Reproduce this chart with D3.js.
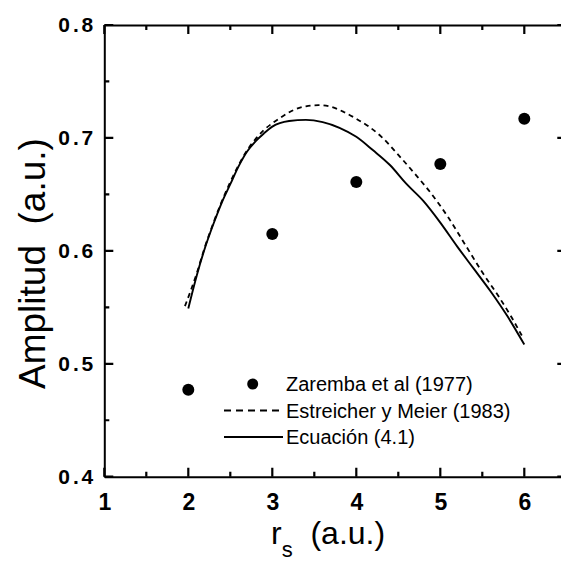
<!DOCTYPE html>
<html>
<head>
<meta charset="utf-8">
<script src="https://cdn.jsdelivr.net/npm/d3@7"></script>
<style>
  html, body { margin: 0; padding: 0; background: #fff; }
  svg { display: block; }
  text { font-family: "Liberation Sans", Arial, Helvetica, sans-serif; fill: #000; }
</style>
</head>
<body>
<svg id="chart" width="561" height="563"></svg>
<script>
// ---- data ----
const zarembaX = [2, 3, 4, 5, 6];
const zarembaY = [0.477, 0.615, 0.661, 0.677, 0.717];

const estreicherX = [1.96, 2.1, 2.2, 2.3, 2.4, 2.5, 2.6, 2.7, 2.8, 2.9, 3.0, 3.1, 3.25, 3.4, 3.55, 3.7, 3.85, 4.0, 4.15, 4.3, 4.5, 4.7, 4.9, 5.1, 5.3, 5.5, 5.7, 5.85, 5.97];
const estreicherY = [0.551, 0.580, 0.604, 0.625, 0.644, 0.661, 0.676, 0.689, 0.699, 0.707, 0.713, 0.718, 0.7246, 0.728, 0.729, 0.7275, 0.723, 0.717, 0.710, 0.701, 0.685, 0.668, 0.650, 0.629, 0.605, 0.581, 0.559, 0.541, 0.525];

const ecuacionX = [2.0, 2.1, 2.2, 2.3, 2.4, 2.5, 2.6, 2.7, 2.8, 2.9, 3.0, 3.2, 3.4, 3.6, 3.8, 4.0, 4.2, 4.4, 4.6, 4.8, 5.0, 5.2, 5.4, 5.6, 5.8, 6.0];
const ecuacionY = [0.549, 0.578, 0.603, 0.624, 0.643, 0.659, 0.675, 0.688, 0.697, 0.704, 0.710, 0.715, 0.716, 0.714, 0.709, 0.701, 0.689, 0.676, 0.659, 0.644, 0.625, 0.604, 0.584, 0.564, 0.542, 0.517];

const xMajorTicks = [1, 2, 3, 4, 5, 6];
const xMinorTicks = [1.5, 2.5, 3.5, 4.5, 5.5, 6.5];
const yMajorTicks = [0.4, 0.5, 0.6, 0.7, 0.8];
const yMinorTicks = [0.45, 0.55, 0.65, 0.75];
const xDomain = [1, 6.5];
const yDomain = [0.4, 0.8];

const legendLabels = ["Zaremba et al (1977)", "Estreicher y Meier (1983)", "Ecuación (4.1)"];

// ---- layout ----
const svg = d3.select("#chart");
const pLeft = 104.3, pRight = 566.3, pTop = 25, pBottom = 476.7;

const x = d3.scaleLinear().domain(xDomain).range([pLeft, pRight]);
const y = d3.scaleLinear().domain(yDomain).range([pBottom, pTop]);

// frame + labels via d3 axes
const gB = svg.append("g").attr("transform", `translate(0,${pBottom})`)
  .call(d3.axisBottom(x).tickValues(xMajorTicks).tickSize(0)
    .tickPadding(17).tickFormat(d3.format("d")));
gB.selectAll(".tick text").attr("font-size", 23).attr("font-weight", "bold")
  .attr("font-family", "Liberation Sans, Arial, sans-serif");

const gT = svg.append("g").attr("transform", `translate(0,${pTop})`)
  .call(d3.axisTop(x).tickValues([]).tickSize(0));

const gL = svg.append("g").attr("transform", `translate(${pLeft},0)`)
  .call(d3.axisLeft(y).tickValues(yMajorTicks).tickSize(0)
    .tickPadding(11).tickFormat(d3.format(".1f")));
gL.selectAll(".tick text").attr("font-size", 21).attr("font-weight", "bold")
  .attr("font-family", "Liberation Sans, Arial, sans-serif")
  .attr("textLength", 35).attr("lengthAdjust", "spacing");

const gR = svg.append("g").attr("transform", `translate(${pRight},0)`)
  .call(d3.axisRight(y).tickValues([]).tickSize(0));

[gB, gT, gL, gR].forEach(g => g.select(".domain").attr("stroke", "#000").attr("stroke-width", 2));

// curves
const line = d3.line().x(d => x(d[0])).y(d => y(d[1])).curve(d3.curveMonotoneX);
const estData = estreicherX.map((v, i) => [v, estreicherY[i]]);
const ecuData = ecuacionX.map((v, i) => [v, ecuacionY[i]]);

svg.append("path").datum(estData).attr("d", line)
  .attr("fill", "none").attr("stroke", "#000").attr("stroke-width", 1.8)
  .attr("stroke-dasharray", "5,4");
svg.append("path").datum(ecuData).attr("d", line)
  .attr("fill", "none").attr("stroke", "#000").attr("stroke-width", 1.9);

// points
svg.append("g").selectAll("circle")
  .data(zarembaX.map((v, i) => [v, zarembaY[i]]))
  .join("circle")
  .attr("cx", d => x(d[0])).attr("cy", d => y(d[1])).attr("r", 6).attr("fill", "#000");

// inward tick marks, drawn as one path on top
const tp = d3.path();
xMajorTicks.forEach(v => {
  const px = x(v);
  tp.moveTo(px, pBottom); tp.lineTo(px, pBottom - 9);
  tp.moveTo(px, pTop); tp.lineTo(px, pTop + 9);
});
xMinorTicks.forEach(v => {
  const px = x(v);
  tp.moveTo(px, pBottom); tp.lineTo(px, pBottom - 5);
  tp.moveTo(px, pTop); tp.lineTo(px, pTop + 5);
});
yMajorTicks.forEach(v => {
  const py = y(v);
  tp.moveTo(pLeft, py); tp.lineTo(pLeft + 9, py);
  tp.moveTo(pRight, py); tp.lineTo(pRight - 9, py);
});
yMinorTicks.forEach(v => {
  const py = y(v);
  tp.moveTo(pLeft, py); tp.lineTo(pLeft + 5, py);
  tp.moveTo(pRight, py); tp.lineTo(pRight - 5, py);
});
svg.append("path").attr("d", tp.toString())
  .attr("fill", "none").attr("stroke", "#000").attr("stroke-width", 2.2);

// legend
const lg = svg.append("g");
lg.append("circle").attr("cx", 252.7).attr("cy", 384).attr("r", 5.5).attr("fill", "#000");
lg.append("line").attr("x1", 224).attr("x2", 282).attr("y1", 410.5).attr("y2", 410.5)
  .attr("stroke", "#000").attr("stroke-width", 1.8).attr("stroke-dasharray", "7,5");
lg.append("line").attr("x1", 224).attr("x2", 283).attr("y1", 437).attr("y2", 437)
  .attr("stroke", "#000").attr("stroke-width", 1.8);
const legY = [391, 417.5, 444];
lg.selectAll("text.leg").data(legendLabels).join("text").attr("class", "leg")
  .attr("x", 286).attr("y", (d, i) => legY[i]).attr("font-size", 20).text(d => d);

// axis titles
const xt = svg.append("text").attr("x", 271).attr("y", 544).attr("font-size", 32)
  .style("white-space", "pre");
xt.append("tspan").text("r");
xt.append("tspan").attr("font-size", 22).attr("dy", 13).text("s");
xt.append("tspan").attr("dy", -13).text("  (a.u.)");

svg.append("text")
  .attr("transform", "translate(45,389) rotate(-90)")
  .attr("font-size", 37).style("white-space", "pre")
  .text("Amplitud  (a.u.)");
</script>
</body>
</html>
